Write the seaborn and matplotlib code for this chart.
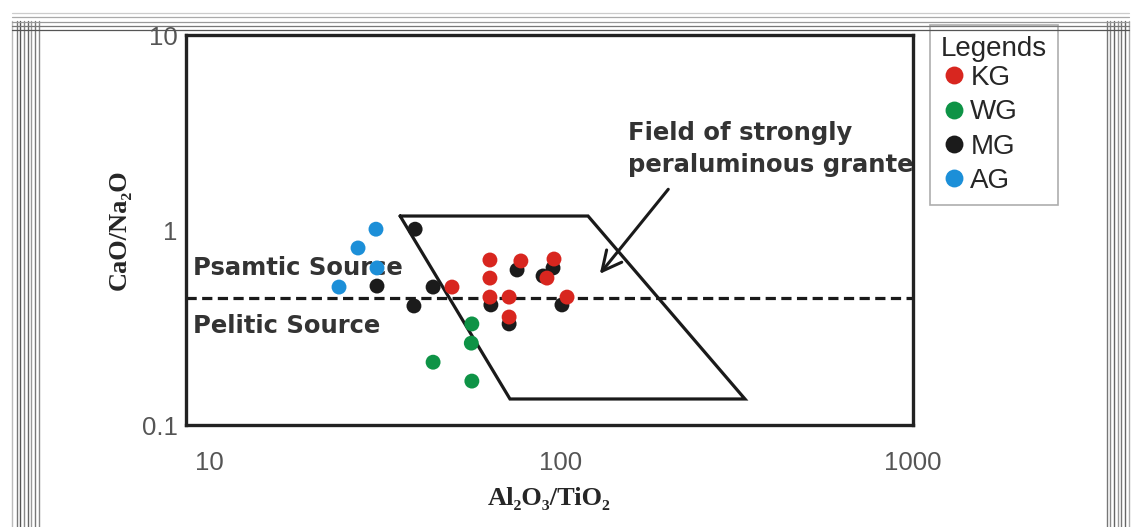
import numpy as np
import pandas as pd
import matplotlib
matplotlib.use("Agg")
import matplotlib.pyplot as plt
from matplotlib.lines import Line2D
import seaborn as sns

# data (Al2O3/TiO2 vs CaO/Na2O)
kg_x = [49.0, 62.8, 62.8, 62.8, 71.2, 71.2, 76.9, 91.2, 95.5, 104.0]
kg_y = [0.510, 0.702, 0.567, 0.453, 0.453, 0.358, 0.694, 0.567, 0.710, 0.453]
wg_x = [55.8, 55.6, 43.3, 55.8]
wg_y = [0.330, 0.263, 0.210, 0.168]
mg_x = [38.5, 30.0, 43.3, 38.2, 75.0, 94.9, 63.2, 100.6, 71.2, 88.9]
mg_y = [1.01, 0.516, 0.510, 0.408, 0.624, 0.639, 0.413, 0.413, 0.330, 0.581]
ag_x = [29.8, 26.5, 30.0, 23.4]
ag_y = [1.01, 0.809, 0.639, 0.510]

groups = ["KG", "WG", "MG", "AG"]
colors = {"KG": "#d8261f", "WG": "#0e9346", "MG": "#1b1b1b", "AG": "#1c8fd8"}

# field of strongly peraluminous granites
field_x = [34.9, 119.3, 333.0, 71.6, 34.9]
field_y = [1.18, 1.18, 0.136, 0.136, 1.18]
source_limit = 0.45

x_ticks = [10, 100, 1000]
y_ticks = [0.1, 1, 10]

# MG first so the black dots sit behind the red ones
df = pd.concat([
    pd.DataFrame({"x": mg_x, "y": mg_y, "group": "MG"}),
    pd.DataFrame({"x": ag_x, "y": ag_y, "group": "AG"}),
    pd.DataFrame({"x": wg_x, "y": wg_y, "group": "WG"}),
    pd.DataFrame({"x": kg_x, "y": kg_y, "group": "KG"}),
], ignore_index=True)

sns.set_theme(style="white")
plt.rcParams["font.family"] = ["Liberation Sans", "DejaVu Sans"]

fig = plt.figure(figsize=(11.37, 5.27), dpi=100)
ax = fig.add_axes([0.1636, 0.1935, 0.6394, 0.7400])
ax.set_xscale("log")
ax.set_yscale("log")

sns.scatterplot(data=df, x="x", y="y", hue="group", hue_order=groups,
                palette=colors, s=115, linewidth=0, ax=ax, zorder=4)

ax.plot(field_x, field_y, color="#1a1a1a", lw=2.3, zorder=2,
        solid_joinstyle="miter")
ax.axhline(source_limit, color="#1a1a1a", lw=2.3, ls=(0, (3.2, 1.7)), zorder=2)

note = dict(fontsize=17.5, fontweight="bold", color="#333333",
            family="DejaVu Sans", ha="left", va="center", zorder=1)
ax.text(9.0, 0.639, "Psamtic Source", **note)
ax.text(9.0, 0.322, "Pelitic Source", **note)
ax.text(155, 2.60, "Field of strongly\nperaluminous grante", linespacing=1.4,
        clip_on=True, **note)
ax.annotate("", xy=(127.4, 0.581), xytext=(204, 1.66),
            arrowprops=dict(arrowstyle="->,head_length=0.7,head_width=0.35",
                            mutation_scale=20, lw=2.2, color="#1a1a1a"))

ax.set_xlim(8.6, 1000)
ax.set_ylim(0.1, 10)
ax.set_xticks(x_ticks)
ax.set_xticklabels([str(v) for v in x_ticks])
ax.set_yticks(y_ticks)
ax.set_yticklabels(["0.1", "1", "10"])
ax.minorticks_off()
ax.tick_params(axis="x", length=0, pad=19, labelsize=18.5, labelcolor="#555555")
ax.tick_params(axis="y", length=0, pad=6, labelsize=18.5, labelcolor="#555555")
for sp in ax.spines.values():
    sp.set_linewidth(2.4)
    sp.set_color("#222222")

serif = ["Liberation Serif", "DejaVu Serif"]
ax.set_xlabel("Al₂O₃/TiO₂", fontsize=19, fontweight="bold", family=serif,
              labelpad=8)
ax.set_ylabel("CaO/Na₂O", fontsize=19, fontweight="bold", family=serif,
              labelpad=8)

handles, labels = ax.get_legend_handles_labels()
leg = ax.legend(handles, labels, title="Legends", loc="upper left",
                bbox_to_anchor=(930 / 1137, 1 - 25 / 527),
                bbox_transform=fig.transFigure, fontsize=20, title_fontsize=20,
                frameon=True, fancybox=False, edgecolor="#999999",
                markerscale=1.2, handletextpad=0.15, handlelength=0.9,
                labelspacing=0.3, borderpad=0.4, borderaxespad=0)
leg.get_frame().set_linewidth(1.2)
leg._legend_box.align = "left"
leg._legend_box.sep = 2

# scanned-page edge lines
for px, c in [(12, "#bbbbbb"), (17, "#777777"), (20, "#555555"), (24, "#888888"),
              (28, "#666666"), (31, "#999999"), (35, "#777777"), (39, "#888888")]:
    fig.add_artist(Line2D([px / 1137] * 2, [0, 0.96], color=c, lw=1.0))
for px, c in [(1107, "#777777"), (1110, "#888888"), (1114, "#666666"),
              (1118, "#999999"), (1121, "#777777"), (1125, "#666666"),
              (1129, "#aaaaaa")]:
    fig.add_artist(Line2D([px / 1137] * 2, [0, 0.96], color=c, lw=1.0))
for py, c in [(13, "#cccccc"), (17, "#aaaaaa"), (22, "#999999"),
              (26, "#777777"), (30, "#555555")]:
    fig.add_artist(Line2D([12 / 1137, 1129 / 1137], [1 - py / 527] * 2,
                          color=c, lw=0.9))

fig.savefig("out.png", dpi=100, facecolor="white")
